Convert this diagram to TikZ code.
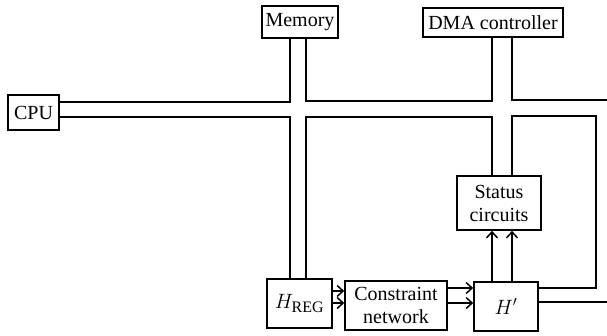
\documentclass[tikz,border=0pt]{standalone}
\usepackage{fontspec}
\setmainfont{Liberation Serif}
\usetikzlibrary{arrows.meta}
\begin{document}
\begin{tikzpicture}[x=1pt,y=-1pt,
  box/.style={draw,line width=1.6pt,rectangle,inner sep=0pt,align=center,
    font=\fontsize{20}{23}\selectfont},
  bus/.style={line width=1.5pt},
  arr/.style={line width=1.5pt,-{Straight Barb[length=6pt,width=11pt,line width=1.5pt]}}]
\useasboundingbox (0,0) rectangle (607,335);
\clip (0,0) rectangle (607,335);
\node[box,minimum width=51pt,minimum height=35pt] (cpu) at (33.5,112.5) {CPU};
\node[box,minimum width=76pt,minimum height=32pt] (mem) at (300,22) {Memory};
\node[box,minimum width=140pt,minimum height=29pt] (dma) at (493,22.5) {DMA controller};
\node[box,minimum width=84pt,minimum height=54pt] (stat) at (499,203) {Status\\circuits};
\node[box,minimum width=64pt,minimum height=49pt] (hp) at (506,306.5) {$H'$};
\node[box,minimum width=65pt,minimum height=49pt] (hreg) at (299.5,303.5) {$H_{\textrm{\fontsize{16}{16}\selectfont REG}}$};
\node[box,minimum width=102pt,minimum height=49pt] (cn) at (396,305.5) {Constraint\\network};
% bus outline
\draw[bus] (cpu.east |- 0,102) -- (290,102) -- (290,0 |- mem.south);
\draw[bus] (306,0 |- mem.south) -- (306,101) -- (492,101) -- (492,0 |- dma.south);
\draw[bus] (512,0 |- dma.south) -- (512,100) -- (612,100) -- (612,302) -- (hp.east |- 0,302);
\draw[bus] (cpu.east |- 0,117) -- (290,117) -- (290,0 |- hreg.north);
\draw[bus] (306,0 |- hreg.north) -- (306,117) -- (492,117) -- (492,0 |- stat.north);
\draw[bus] (512,0 |- stat.north) -- (512,116) -- (596,116) -- (596,288) -- (hp.east |- 0,288);
% arrows
\draw[arr] (hreg.east |- 0,291) -- (cn.west |- 0,291);
\draw[arr] (hreg.east |- 0,303) -- (cn.west |- 0,303);
\draw[arr] (cn.east |- 0,288) -- (hp.west |- 0,288);
\draw[arr] (cn.east |- 0,303) -- (hp.west |- 0,303);
\draw[arr] (492,0 |- hp.north) -- (492,0 |- stat.south);
\draw[arr] (512,0 |- hp.north) -- (512,0 |- stat.south);
\end{tikzpicture}
\end{document}
